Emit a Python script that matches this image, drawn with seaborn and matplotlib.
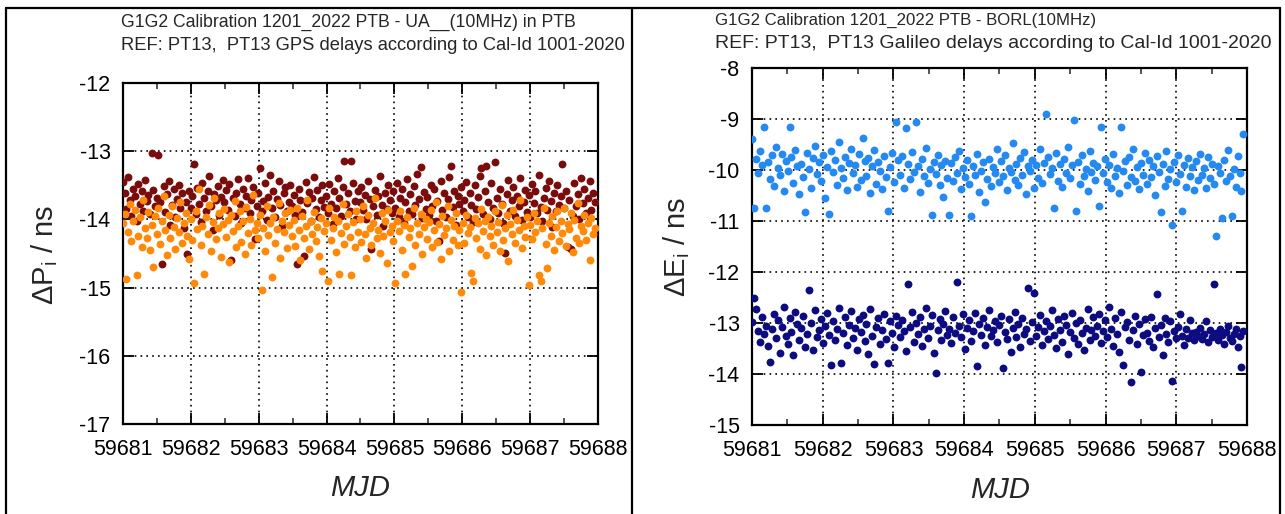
import numpy as np
import pandas as pd
import matplotlib
matplotlib.use("Agg")
import matplotlib.pyplot as plt
import seaborn as sns
from matplotlib.lines import Line2D
from matplotlib.ticker import MultipleLocator, FormatStrFormatter

sns.set_style("white")
plt.rcParams["font.family"] = ["Liberation Sans", "DejaVu Sans"]
plt.rcParams["mathtext.fontset"] = "custom"
plt.rcParams["mathtext.rm"] = "Liberation Sans"
plt.rcParams["mathtext.it"] = "Liberation Sans:italic"
plt.rcParams["axes.unicode_minus"] = False

# ---------------- data ----------------
mjd_first, mjd_last = 59681.0, 59687.95
mjd_ticks = [59681, 59682, 59683, 59684, 59685, 59686, 59687, 59688]

left_title = ["G1G2 Calibration 1201_2022 PTB - UA__(10MHz) in PTB",
              "REF: PT13,  PT13 GPS delays according to Cal-Id 1001-2020"]
right_title = ["G1G2 Calibration 1201_2022 PTB - BORL(10MHz)",
               "REF: PT13,  PT13 Galileo delays according to Cal-Id 1001-2020"]

# GPS, dark red series (ns)
gps_p1 = [
    -13.45, -13.62, -13.85, -13.38, -13.71, -13.95, -13.55, -13.66, -14.02, -13.48, -13.77, -13.59, -13.88, -13.42, -13.73, -13.64, -13.92, -13.02, -13.57, -13.81,
    -13.68, -13.06, -13.74, -14.66, -13.51, -13.89, -13.63, -13.44, -14.08, -13.79, -13.56, -13.97, -13.70, -13.49, -13.84, -13.61, -14.12, -13.75, -14.50, -13.58,
    -13.83, -13.66, -13.19, -13.92, -13.54, -13.77, -14.04, -13.47, -13.69, -13.88, -13.58, -13.36, -13.81, -14.15, -13.63, -13.72, -13.51, -13.94, -13.67, -13.42,
    -13.74, -13.57, -13.86, -13.48, -14.59, -13.69, -13.95, -13.62, -13.41, -13.78, -14.06, -13.55, -13.83, -13.66, -13.39, -13.91, -13.71, -13.53, -14.29, -13.80,
    -13.62, -13.25, -13.88, -13.73, -13.46, -14.01, -13.67, -13.35, -13.84, -13.58, -13.96, -13.70, -13.43, -13.79, -14.10, -13.61, -13.52, -13.87, -13.74, -13.49,
    -13.81, -13.64, -13.93, -14.66, -13.56, -13.72, -13.89, -14.53, -13.45, -13.76, -13.60, -14.03, -13.68, -13.38, -13.85, -13.57, -13.97, -13.71, -13.50, -13.82,
    -13.66, -13.91, -13.48, -13.77, -14.07, -13.59, -13.84, -13.40, -13.69, -13.95, -13.53, -13.15, -13.78, -13.62, -13.88, -13.15, -13.47, -13.73, -14.00, -13.58,
    -13.75, -13.52, -13.86, -13.64, -13.99, -13.43, -13.70, -14.43, -13.81, -13.57, -13.93, -13.66, -13.37, -13.79, -14.09, -13.61, -13.85, -13.50, -13.72, -13.90,
    -13.58, -13.83, -13.46, -13.96, -13.68, -13.55, -14.05, -13.74, -13.41, -13.87, -13.63, -13.92, -13.51, -13.79, -13.34, -13.70, -13.23, -13.98, -13.60, -13.85,
    -13.67, -13.94, -13.49, -13.80, -13.56, -14.02, -13.73, -14.31, -13.44, -13.86, -13.62, -13.97, -13.70, -13.38, -13.21, -13.82, -13.59, -14.08, -13.65, -13.77,
    -13.53, -13.88, -13.71, -13.45, -13.96, -13.62, -13.79, -14.04, -13.50, -13.85, -13.67, -13.36, -13.25, -13.92, -13.58, -13.21, -13.74, -13.99, -13.47, -13.83,
    -13.16, -13.69, -13.90, -13.55, -13.78, -14.06, -14.49, -13.63, -13.42, -13.87, -13.71, -13.52, -13.95, -13.66, -13.80, -13.39, -14.01, -13.74, -13.57, -13.89,
    -13.64, -13.97, -13.48, -13.76, -13.59, -13.91, -13.35, -13.82, -14.03, -13.68, -13.54, -13.86, -13.43, -13.73, -14.11, -13.61, -13.88, -13.50, -13.79, -13.66,
    -13.19, -13.83, -13.58, -14.40, -13.72, -14.43, -13.95, -13.47, -13.81, -13.63, -13.99, -13.40, -13.76, -13.55, -13.90, -13.68, -13.44, -13.86, -13.61, -13.74,
]

# GPS, orange series (ns)
gps_p2 = [
    -14.05, -13.92, -14.87, -14.18, -13.78, -14.31, -14.02, -13.86, -14.82, -14.24, -13.97, -14.40, -13.71, -14.12, -14.28, -13.89, -14.45, -14.08, -14.70, -13.95,
    -14.21, -13.84, -14.36, -14.03, -13.66, -14.15, -14.52, -13.93, -14.27, -13.80, -14.11, -14.43, -13.98, -14.19, -13.74, -14.34, -14.06, -13.90, -14.25, -14.58,
    -14.00, -14.30, -14.93, -13.87, -14.14, -13.55, -14.38, -14.09, -14.80, -13.96, -14.22, -13.79, -14.47, -14.04, -13.68, -14.29, -14.13, -13.91, -14.55, -14.07,
    -13.85, -14.26, -14.01, -14.62, -13.94, -14.17, -13.73, -14.41, -14.10, -13.88, -14.33, -14.02, -14.50, -13.82, -14.20, -13.99, -14.37, -13.64, -14.16, -14.05,
    -14.28, -13.93, -15.03, -14.12, -14.46, -13.80, -14.23, -14.06, -14.85, -13.97, -14.35, -14.14, -13.76, -14.57, -14.02, -14.19, -13.90, -14.42, -14.08, -13.86,
    -14.25, -14.01, -14.39, -13.83, -14.15, -14.60, -13.95, -14.27, -14.09, -13.72, -14.44, -14.03, -14.21, -13.89, -14.32, -14.11, -14.53, -13.98, -14.75, -14.17,
    -14.06, -14.91, -13.84, -14.30, -14.13, -13.96, -14.48, -14.02, -14.80, -14.20, -13.78, -14.36, -14.09, -13.92, -14.26, -14.82, -14.04, -14.41, -13.87, -14.18,
    -14.00, -14.33, -13.81, -14.22, -14.56, -13.94, -14.12, -14.38, -14.05, -13.69, -14.27, -14.15, -14.49, -13.90, -14.24, -14.03, -14.64, -13.86, -14.19, -14.10,
    -14.31, -14.93, -14.02, -14.17, -13.88, -14.45, -14.08, -14.80, -13.97, -14.26, -14.13, -14.68, -13.83, -14.37, -14.05, -14.21, -13.92, -14.51, -14.11, -13.99,
    -14.29, -14.04, -13.86, -14.40, -14.16, -13.74, -14.33, -14.07, -14.58, -13.95, -14.23, -14.12, -13.81, -14.46, -14.01, -14.30, -14.09, -13.90, -14.37, -14.15,
    -15.07, -14.06, -14.34, -13.93, -14.20, -14.11, -14.78, -14.90, -13.98, -14.28, -14.05, -14.43, -13.85, -14.17, -14.02, -14.52, -13.96, -14.25, -14.09, -14.38,
    -13.88, -14.19, -14.04, -14.47, -13.79, -14.30, -14.12, -13.94, -14.61, -14.07, -14.22, -13.86, -14.35, -14.01, -14.15, -13.72, -14.42, -14.10, -14.26, -13.97,
    -14.96, -14.08, -14.29, -13.91, -14.18, -14.03, -14.81, -14.90, -14.13, -13.84, -14.36, -14.71, -14.06, -14.24, -13.95, -14.45, -14.11, -13.88, -14.32, -14.02,
    -14.20, -13.83, -14.39, -14.07, -14.14, -13.90, -14.48, -14.01, -14.27, -13.76, -14.35, -14.09, -14.17, -13.93, -14.30, -14.05, -14.59, -13.98, -14.22, -14.12,
]

# Galileo, light blue series (ns)
gal_e1 = [
    -9.40, -10.74, -9.78, -10.05, -9.62, -9.91, -9.16, -10.74, -9.85, -10.18, -9.70, -10.32, -9.55, -9.96, -10.10, -9.68, -10.41, -9.82, -10.02, -9.16, -9.74, -10.25, -9.60, -9.93, -10.48,
    -9.88, -10.13, -10.82, -9.66, -9.99, -10.36, -9.77, -9.52, -10.08, -9.84, -10.22, -9.71, -10.55, -9.94, -10.86, -9.63, -10.04, -9.80, -10.29, -9.45, -9.97, -10.15, -9.74, -10.40, -9.86,
    -9.58, -10.06, -9.90, -10.33, -9.69, -10.20, -9.38, -9.83, -10.11, -9.76, -10.46, -9.92, -9.61, -10.27, -9.85, -10.01, -10.38, -9.73, -10.14, -10.80, -9.95, -9.66, -10.24, -9.05, -9.81,
    -10.09, -9.72, -10.35, -9.17, -9.89, -10.18, -9.64, -10.03, -9.05, -9.93, -10.43, -9.79, -10.12, -9.57, -10.26, -9.98, -10.88, -9.84, -10.07, -9.70, -10.30, -9.91, -10.52, -9.82, -10.16,
    -10.88, -9.87, -10.21, -9.75, -10.05, -9.62, -10.37, -9.96, -10.13, -9.80, -10.28, -10.90, -9.92, -10.09, -9.68, -10.44, -10.01, -9.85, -10.63, -10.17, -9.78, -10.32, -9.95, -10.06, -9.59,
    -10.24, -9.83, -10.12, -9.71, -10.39, -9.97, -10.04, -9.48, -10.19, -9.88, -10.29, -9.76, -10.10, -9.64, -10.47, -9.93, -10.02, -9.81, -10.35, -9.90, -10.15, -9.58, -10.26, -9.86, -8.90,
    -9.75, -10.08, -9.96, -10.74, -9.67, -10.22, -9.89, -10.33, -9.79, -10.05, -9.55, -10.16, -9.91, -9.02, -10.80, -9.84, -10.27, -9.70, -10.11, -9.98, -10.41, -9.63, -10.03, -9.87, -10.19,
    -9.93, -10.70, -9.15, -10.06, -9.78, -10.24, -9.90, -10.36, -9.69, -10.12, -9.97, -10.45, -9.15, -10.01, -9.82, -10.30, -9.74, -10.14, -9.59, -10.21, -9.94, -10.38, -9.86, -10.09, -9.66,
    -10.27, -9.81, -10.13, -9.92, -10.49, -9.72, -10.04, -10.82, -9.88, -10.31, -9.62, -10.18, -9.99, -11.08, -9.84, -10.23, -9.70, -10.07, -10.80, -9.90, -10.34, -9.77, -10.12, -9.95, -10.40,
    -9.83, -10.20, -9.68, -10.09, -9.97, -10.36, -9.75, -10.15, -9.88, -10.28, -11.30, -9.93, -10.05, -10.95, -9.80, -10.22, -9.61, -10.11, -10.90, -9.99, -10.33, -9.72, -10.06, -10.42, -9.30,
]

# Galileo, navy series (ns)
gal_e5 = [
    -12.98, -12.50, -12.72, -13.15, -13.38, -12.88, -13.22, -13.05, -13.46, -13.76, -13.12, -12.83, -13.30, -12.95, -13.58, -13.08, -12.69, -13.26, -13.41, -12.91, -13.17, -13.63, -12.78, -13.02, -13.34,
    -13.10, -12.86, -13.47, -13.21, -12.35, -13.00, -13.53, -12.74, -13.28, -13.14, -12.92, -13.39, -13.06, -12.81, -13.24, -13.82, -12.96, -13.33, -13.11, -12.70, -13.79, -13.19, -12.89, -13.44, -13.03,
    -12.77, -13.29, -13.09, -13.52, -12.93, -13.18, -12.84, -13.36, -13.01, -13.61, -12.73, -13.25, -13.80, -13.07, -12.90, -13.42, -13.13, -12.82, -13.31, -13.79, -12.97, -13.20, -13.48, -12.87, -13.04,
    -13.27, -12.94, -13.16, -13.55, -12.24, -13.08, -12.79, -13.37, -13.00, -13.22, -12.88, -13.45, -13.12, -12.71, -13.30, -13.06, -12.85, -13.59, -13.98, -13.14, -12.92, -13.33, -13.02, -12.76, -13.24,
    -13.11, -13.40, -12.89, -13.19, -12.20, -13.05, -13.28, -12.83, -13.50, -13.09, -12.95, -13.35, -13.15, -12.80, -13.84, -13.01, -13.23, -12.91, -13.43, -13.07, -12.74, -13.26, -13.13, -12.97, -13.38,
    -13.04, -12.86, -13.88, -13.18, -13.31, -12.93, -13.56, -13.10, -12.78, -13.27, -13.02, -13.47, -12.90, -13.21, -13.12, -12.31, -13.36, -12.99, -12.41, -13.25, -13.08, -12.84, -13.44, -13.15, -12.96,
    -13.32, -13.06, -12.75, -13.23, -13.49, -12.92, -13.14, -13.38, -12.87, -13.03, -13.60, -13.17, -12.81, -13.29, -13.00, -13.42, -12.94, -13.20, -13.53, -13.09, -12.72, -13.34, -13.13, -12.89, -13.26,
    -13.05, -12.83, -13.39, -13.16, -12.95, -13.28, -12.68, -13.11, -13.46, -12.90, -13.22, -13.57, -12.79, -13.82, -13.07, -12.98, -13.33, -14.16, -13.14, -12.86, -13.41, -13.02, -13.96, -13.24, -12.93,
    -13.19, -13.35, -12.88, -13.48, -13.10, -12.43, -13.27, -13.04, -13.62, -12.91, -13.21, -13.37, -12.97, -14.14, -13.16, -13.30, -13.08, -12.82, -13.25, -13.43, -13.12, -13.29, -12.94, -13.20, -13.34,
    -13.18, -13.26, -13.09, -13.31, -13.22, -12.96, -13.38, -13.14, -13.27, -12.23, -13.20, -13.33, -13.11, -13.24, -13.42, -13.17, -13.05, -13.29, -13.36, -13.21, -13.12, -13.47, -13.25, -13.86, -13.15,
]

col_p1, col_p2 = "#7a0c0c", "#ff8a0a"
col_e1, col_e5 = "#2489f0", "#0c0c80"

gps = pd.DataFrame({"MJD": np.linspace(mjd_first, mjd_last, len(gps_p1)),
                    "P1": gps_p1, "P2": gps_p2})
gal = pd.DataFrame({"MJD": np.linspace(mjd_first, mjd_last, len(gal_e1)),
                    "E1": gal_e1, "E5": gal_e5})

fig = plt.figure(figsize=(12.85, 5.14), dpi=100)
ax1 = fig.add_axes([123 / 1285, 1 - 424 / 514, 475 / 1285, 341 / 514])
ax2 = fig.add_axes([752 / 1285, 1 - 425 / 514, 495 / 1285, 357 / 514])

S = 32
sns.scatterplot(data=gps, x="MJD", y="P1", ax=ax1, color=col_p1, s=S, linewidth=0, zorder=3)
sns.scatterplot(data=gps, x="MJD", y="P2", ax=ax1, color=col_p2, s=S, linewidth=0, zorder=4)
sns.scatterplot(data=gal, x="MJD", y="E1", ax=ax2, color=col_e1, s=S, linewidth=0, zorder=3)
sns.scatterplot(data=gal, x="MJD", y="E5", ax=ax2, color=col_e5, s=S, linewidth=0, zorder=3)

for ax, ylim in ((ax1, (-17, -12)), (ax2, (-15, -8))):
    ax.set_xlim(59681, 59688)
    ax.set_ylim(*ylim)
    ax.set_xticks(mjd_ticks)
    ax.xaxis.set_minor_locator(MultipleLocator(0.5))
    ax.yaxis.set_major_locator(MultipleLocator(1))
    ax.xaxis.set_major_formatter(FormatStrFormatter("%d"))
    ax.yaxis.set_major_formatter(FormatStrFormatter("%d"))
    ax.tick_params(which="major", direction="in", length=8, width=1.3,
                   top=True, right=True, bottom=True, left=True,
                   labelsize=15.5, pad=9, colors="black")
    ax.tick_params(axis="x", which="major", pad=11)
    ax.tick_params(which="minor", direction="in", length=4, width=1.1,
                   top=True, bottom=True)
    ax.grid(True, which="major", color="black", linestyle=(0, (1, 2.5)), linewidth=1.2)
    ax.set_axisbelow(True)
    for sp in ax.spines.values():
        sp.set_linewidth(1.6)
        sp.set_color("black")
    ax.set_xlabel("")
    ax.set_ylabel("")

# y labels
fig.text(45 / 1285, 1 - 255 / 514, r"$\Delta$P$_\mathrm{i}$ / ns", rotation=90,
         ha="center", va="center", fontsize=21)
fig.text(677 / 1285, 1 - 247 / 514, r"$\Delta$E$_\mathrm{i}$ / ns", rotation=90,
         ha="center", va="center", fontsize=21)
# x labels
fig.text(360 / 1285, 1 - 488 / 514, "MJD", style="italic", ha="center", va="center", fontsize=21)
fig.text(1000 / 1285, 1 - 490 / 514, "MJD", style="italic", ha="center", va="center", fontsize=21)

# titles
fig.text(121 / 1285, 1 - 22 / 514, left_title[0], ha="left", va="center", fontsize=12.7)
fig.text(121 / 1285, 1 - 45 / 514, left_title[1], ha="left", va="center", fontsize=13.2)
fig.text(715 / 1285, 1 - 20 / 514, right_title[0], ha="left", va="center", fontsize=12.1)
fig.text(715 / 1285, 1 - 43 / 514, right_title[1], ha="left", va="center", fontsize=14.0)

# outer frame
yt = 1 - 8 / 514
for xx in (6 / 1285, 632 / 1285, 1280 / 1285):
    fig.add_artist(Line2D([xx, xx], [0, yt], color="black", linewidth=1.6))
fig.add_artist(Line2D([6 / 1285, 1280 / 1285], [yt, yt], color="black", linewidth=1.6))

fig.savefig("out.png", dpi=100)
